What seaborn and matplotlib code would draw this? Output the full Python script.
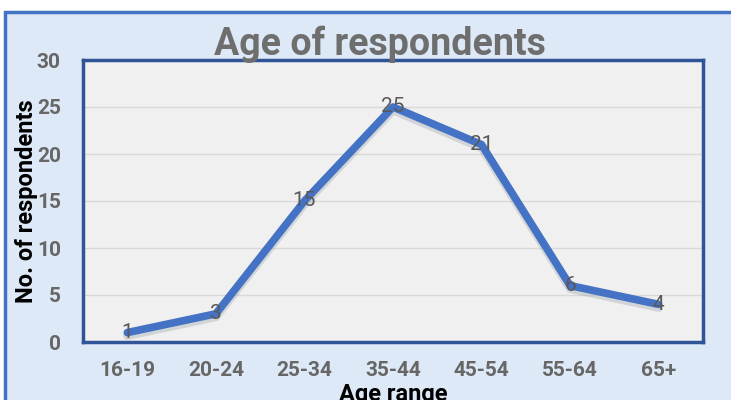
import matplotlib.pyplot as plt
import matplotlib.patches as mpatches
import pandas as pd
import seaborn as sns

AGE_RANGES = ["16-19", "20-24", "25-34", "35-44", "45-54", "55-64", "65+"]
RESPONDENTS = [1, 3, 15, 25, 21, 6, 4]
Y_TICKS = [0, 5, 10, 15, 20, 25, 30]

sns.set_theme(style="white")
plt.rcParams["font.family"] = ["Roboto", "DejaVu Sans"]

df = pd.DataFrame({"age": AGE_RANGES, "count": RESPONDENTS})

fig = plt.figure(figsize=(7.31, 4.0), dpi=100)
fig.patch.set_facecolor("white")

# chart area box, drawn on a background axes
bg = fig.add_axes([0, 0, 1, 1], zorder=-1)
bg.set_axis_off()
bg.set_xlim(0, 731)
bg.set_ylim(400, 0)
bg.add_patch(mpatches.Rectangle((5, 12), 740, 400, facecolor="#dde9f6",
                                edgecolor="#4472c4", linewidth=2.5))

ax = fig.add_axes([83 / 731, 1 - 342 / 400, (703 - 83) / 731, (342 - 60) / 400])
ax.set_facecolor("#f0f0f0")

sns.lineplot(data=df, x="age", y="count", ax=ax, color="#4472c4",
             linewidth=5.5, sort=False, zorder=3)
# soft shadow under the line
ax.plot(range(len(AGE_RANGES)), [v - 0.35 for v in RESPONDENTS],
        color="#9aa3ad", linewidth=6, alpha=0.35, zorder=2,
        solid_capstyle="round")

for i, v in enumerate(RESPONDENTS):
    ax.text(i, v, str(v), ha="center", va="center", fontsize=15,
            color="#595959", zorder=4)

ax.set_xlim(-0.5, len(AGE_RANGES) - 0.5)
ax.set_ylim(0, 30)
ax.set_yticks(Y_TICKS)
ax.yaxis.grid(True, color="#d9d9d9", linewidth=1)
ax.set_axisbelow(True)

for s in ax.spines.values():
    s.set_color("#2f5597")
    s.set_linewidth(2.5)

ax.tick_params(axis="x", length=0, pad=14, labelsize=15, labelcolor="#666666")
ax.tick_params(axis="y", length=0, pad=16, labelsize=15, labelcolor="#666666")
for lbl in ax.get_xticklabels() + ax.get_yticklabels():
    lbl.set_fontweight("bold")

ax.set_xlabel("Age range", fontsize=17, fontweight="bold", color="black")
ax.set_ylabel("No. of respondents", fontsize=17, fontweight="bold",
              color="black")
ax.xaxis.set_label_coords(0.5, -0.145)
ax.yaxis.set_label_coords(-0.072, 0.5)

fig.text(380 / 731, 1 - 44 / 400, "Age of respondents", ha="center",
         va="center", fontsize=27, fontweight="bold", color="#6e6e6e")

fig.savefig("out.png", dpi=100)
